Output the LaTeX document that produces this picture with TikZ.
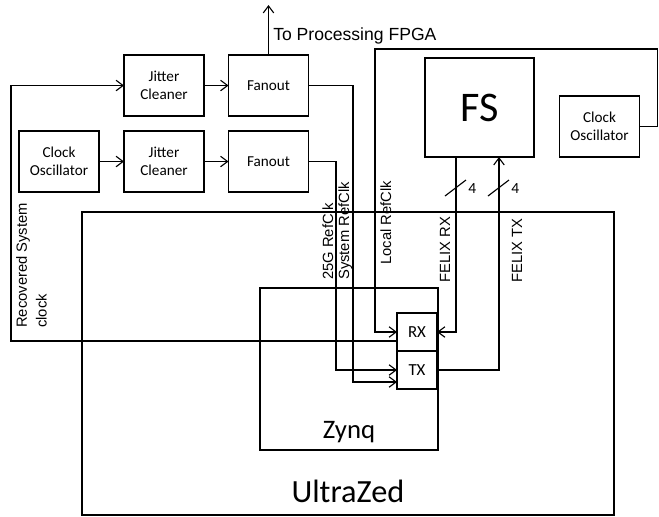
\documentclass[tikz,border=0pt]{standalone}
\usepackage{fontspec}
\setmainfont{Carlito}
\newfontfamily\arialfont{Liberation Sans}
\usetikzlibrary{arrows.meta}

\begin{document}
\begin{tikzpicture}[
    x=0.025cm, y=-0.025cm,
    blk/.style={draw, line width=1.4pt, inner sep=0pt, outer sep=0pt, minimum width=2cm, minimum height=1.525cm, align=center, font=\fontsize{10.8}{12.7}\selectfont},
    board/.style={draw, line width=1.6pt, inner sep=0pt, outer sep=0pt},
    port/.style={draw, line width=0.8pt, inner sep=0pt, outer sep=0pt, minimum width=1cm, minimum height=0.95cm, font=\fontsize{12}{14}\selectfont},
    sig/.style={-{Straight Barb[length=5pt,width=7.5pt]}, line width=0.8pt},
    wire/.style={line width=0.8pt},
    lbl/.style={font=\arialfont\fontsize{10.5}{14}\selectfont, inner sep=0pt, rotate=90, anchor=base west}
]
    \useasboundingbox (0,0) rectangle (659,516);

    \node[blk] (jc1) at (164,85.5) {Jitter\\Cleaner};
    \node[blk] (fo1) at (268.5,85.5) {Fanout};
    \node[blk] (osc1) at (59,161.5) {Clock\\Oscillator};
    \node[blk] (jc2) at (164,161.5) {Jitter\\Cleaner};
    \node[blk] (fo2) at (268.5,161.5) {Fanout};
    \node[blk, minimum width=2.725cm, minimum height=2.475cm, font=\fontsize{30}{36}\selectfont] (fs) at (479.5,107.5) {FS};
    \node[blk] (osc2) at (599.5,126.5) {Clock\\Oscillator};

    \node[board, minimum width=13.3cm, minimum height=7.575cm] (uz) at (348,363.5) {};
    \node[board, minimum width=4.45cm, minimum height=4.05cm] (zynq) at (349,369) {};
    \node[port] (rx) at (417,332) {RX};
    \node[port] (tx) at (417,370) {TX};
    \node[font=\fontsize{23}{28}\selectfont, anchor=base] (uzname) at (348,502) {UltraZed};
    \node[font=\fontsize{19}{23}\selectfont, anchor=base] (zyname) at (349,438) {Zynq};

    % clock chains
    \draw[sig] (jc1) -- (fo1);
    \draw[sig] (osc1) -- (jc2);
    \draw[sig] (jc2) -- (fo2);
    \coordinate (fpga) at (268.5,5);
    \draw[sig] (fo1) -- (fpga);
    \node[font=\arialfont\fontsize{12.5}{14}\selectfont, anchor=base west, inner sep=0pt] (fpgatxt) at (273,40) {To Processing FPGA};

    % recovered clock back to the cleaner
    \draw[sig] ([yshift=0.25cm]rx.south west) -- ++(-386,0) |- (jc1);

    % reference clocks
    \draw[sig] (fo1.east) -- ++(44.5,0) |- ([yshift=0.175cm]tx.south west);
    \draw[sig] (fo2.east) -- ++(27.5,0) |- (tx.west);
    \draw[sig] (osc2.east) -- ++(18,0) |- (375,49) |- (rx.west);

    % FELIX links
    \draw[sig] ([xshift=-0.5875cm]fs.south) |- (rx.east);
    \draw[sig] (tx.east) -| ([xshift=0.4875cm]fs.south);
    \foreach \x/\n in {456/rxw,499/txw} {
        \draw[wire] (\x-11,196) -- (\x+10,180);
        \node[anchor=west, inner sep=0pt, font=\fontsize{11}{13}\selectfont] (\n) at (\x+12,189) {4};
    }

    \node[lbl] (l25g) at (333,280) {25G RefClk};
    \node[lbl] (lsys) at (349,280) {System RefClk};
    \node[lbl] (lloc) at (391,265) {Local RefClk};
    \node[lbl] (lfrx) at (450,283) {FELIX RX};
    \node[lbl] (lftx) at (522,283) {FELIX TX};
    \node[lbl, anchor=north west, align=left] (lrec) at (16,328) {Recovered System\\clock};
\end{tikzpicture}
\end{document}
